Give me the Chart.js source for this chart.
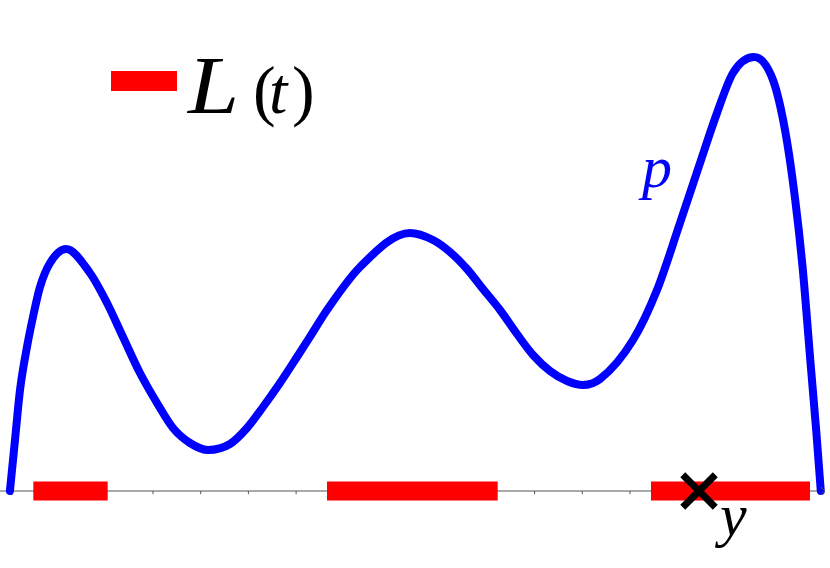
<!DOCTYPE html>
<html>
<head>
<meta charset="utf-8">
<script src="https://cdn.jsdelivr.net/npm/chart.js@4/dist/chart.umd.min.js"></script>
<style>
  html, body { margin: 0; padding: 0; background: #ffffff; }
  #c { display: block; }
</style>
</head>
<body>
<canvas id="c" width="830" height="568"></canvas>
<script>
// ---- data ----
const curveX = [0, 0.107, 0.212, 0.358, 0.484, 0.631, 0.841, 1.176, 1.679, 2.036, 2.371, 2.727,
                3.084, 3.419, 3.776, 4.153, 4.614, 4.971, 5.306, 5.662, 6.019, 6.354, 6.648,
                7.340, 8.388, 8.870, 9.226, 9.583, 9.918, 10.275, 10.631, 10.967, 11.323,
                11.680, 12.015, 12.371, 13.063, 13.566, 14.048, 14.468, 14.824, 15.159,
                15.600, 15.998, 16.250, 16.459, 16.618, 16.792, 16.908, 17.0];
const curveY = [0, 0.51, 1.01, 1.44, 1.74, 2.04, 2.28, 2.42, 2.18, 1.88, 1.54, 1.18,
                0.88, 0.63, 0.48, 0.41, 0.47, 0.63, 0.84, 1.08, 1.34, 1.59, 1.81,
                2.24, 2.58, 2.51, 2.39, 2.22, 2.02, 1.81, 1.57, 1.36, 1.20,
                1.10, 1.06, 1.12, 1.51, 2.01, 2.68, 3.28, 3.78, 4.18,
                4.34, 4.11, 3.61, 2.93, 2.24, 1.24, 0.58, 0];
const segStarts = [0.491, 6.648, 13.44];
const segEnds   = [2.050, 10.226, 16.774];
const tickPositions = [1, 2, 3, 4, 5, 6, 7, 8, 9, 10, 11, 12, 13, 14, 15, 16];
const markerX = [14.447];
const axisRange = [-0.2075, 17.0];

const xMin = -0.2075, xMax = 17.193, yMin = -0.77, yMax = 4.91;

const datasets = [];
datasets.push({
  label: 'p',
  data: curveX.map((x, i) => ({ x: x, y: curveY[i] })),
  borderColor: '#0000ff',
  borderWidth: 8,
  pointRadius: 0,
  cubicInterpolationMode: 'monotone',
  borderCapStyle: 'round',
  borderJoinStyle: 'round',
  fill: false,
  order: 1
});
segStarts.forEach((s, i) => {
  datasets.push({
    label: 'L(t)',
    data: [{ x: s, y: 0 }, { x: segEnds[i], y: 0 }],
    borderColor: '#ff0000',
    borderWidth: 19,
    borderCapStyle: 'butt',
    pointRadius: 0,
    fill: false,
    order: 2
  });
});
datasets.push({
  label: 'ticks',
  data: tickPositions.map(x => ({ x: x, y: -0.016 })),
  showLine: false,
  pointStyle: 'line',
  rotation: 90,
  pointRadius: 1.6,
  pointBorderWidth: 1,
  borderColor: '#555555',
  order: 3
});
datasets.push({
  label: 'axis',
  data: axisRange.map(x => ({ x: x, y: 0 })),
  borderColor: '#555555',
  borderWidth: 1,
  pointRadius: 0,
  fill: false,
  order: 4
});
datasets.push({
  label: 'y',
  data: markerX.map(x => ({ x: x, y: 0 })),
  showLine: false,
  pointStyle: 'crossRot',
  pointRadius: 23,
  pointBorderWidth: 7,
  borderColor: '#000000',
  backgroundColor: '#000000',
  order: 0
});

const textPlugin = {
  id: 'texts',
  afterDatasetsDraw(chart) {
    const ctx = chart.ctx;
    const xs = chart.scales.x, ys = chart.scales.y;
    ctx.save();
    // axis arrow head
    const ax = xs.getPixelForValue(axisRange[1]) + 3, ay = ys.getPixelForValue(0);
    ctx.strokeStyle = '#555555';
    ctx.lineWidth = 1;
    ctx.beginPath();
    ctx.moveTo(ax - 3, ay - 4);
    ctx.lineTo(ax + 1, ay);
    ctx.lineTo(ax - 3, ay + 4);
    ctx.stroke();
    // legend swatch
    ctx.fillStyle = '#ff0000';
    ctx.fillRect(111, 71, 66, 20);
    // legend text L(t)
    ctx.fillStyle = '#000000';
    ctx.textBaseline = 'alphabetic';
    ctx.textAlign = 'left';
    ctx.save();
    ctx.translate(188, 113);
    ctx.scale(1.12, 1);
    ctx.font = 'italic 82px "Liberation Serif"';
    ctx.fillText('L', 0, 0);
    ctx.restore();
    ctx.font = '68px "Liberation Serif"';
    ctx.fillText('(', 253, 113);
    ctx.font = 'italic 66px "Liberation Serif"';
    ctx.fillText('t', 269, 113);
    ctx.font = '68px "Liberation Serif"';
    ctx.fillText(')', 292, 113);
    // curve label p
    ctx.fillStyle = '#0000ff';
    ctx.font = 'italic 60px "Liberation Serif"';
    ctx.fillText('p', 642, 187);
    // marker label y
    ctx.fillStyle = '#000000';
    ctx.fillText('y', 720, 535);
    ctx.restore();
  }
};

new Chart(document.getElementById('c'), {
  type: 'line',
  data: { datasets: datasets },
  options: {
    responsive: false,
    animation: false,
    devicePixelRatio: 1,
    layout: { padding: 0, autoPadding: false },
    events: [],
    scales: {
      x: { type: 'linear', min: xMin, max: xMax, display: false },
      y: { type: 'linear', min: yMin, max: yMax, display: false }
    },
    plugins: {
      legend: { display: false },
      tooltip: { enabled: false }
    }
  },
  plugins: [textPlugin]
});
</script>
</body>
</html>
